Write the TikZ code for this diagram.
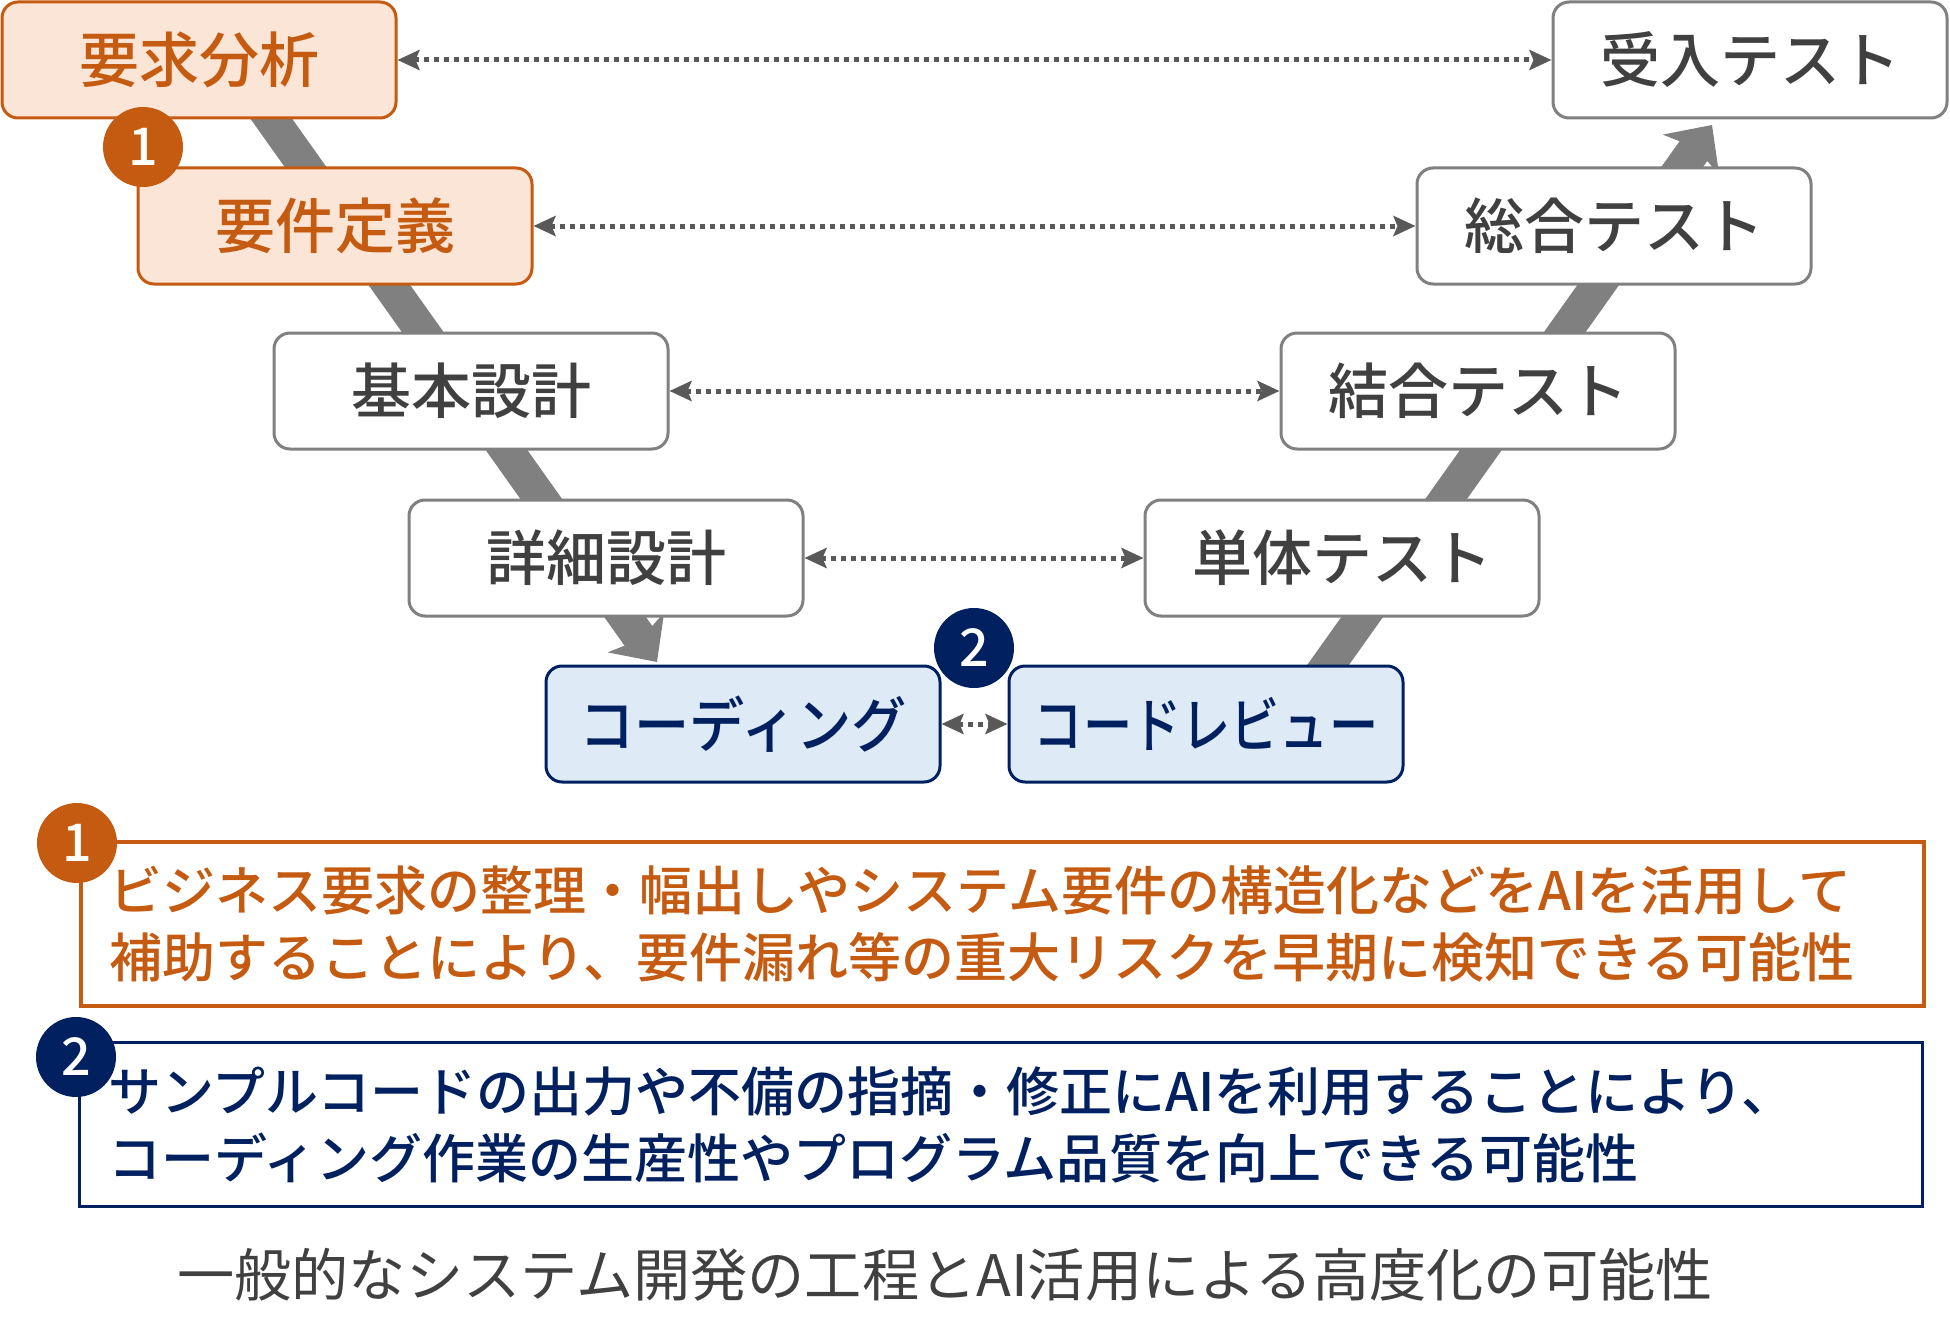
\documentclass[tikz,border=0pt]{standalone}
\usepackage{fontspec}
\setmainfont{Noto Sans CJK JP}
\newfontfamily\stagefont{Noto Sans CJK JP Medium}
\newfontfamily\codingfont[FakeStretch=0.92]{Noto Sans CJK JP Medium}
\newfontfamily\reviewfont[FakeStretch=0.82]{Noto Sans CJK JP Medium}
\newfontfamily\notefont{Noto Sans CJK JP Medium}
\usetikzlibrary{arrows.meta}
\definecolor{reqline}{HTML}{C55A11}
\definecolor{reqfill}{HTML}{FBE5D6}
\definecolor{codeline}{HTML}{002060}
\definecolor{codefill}{HTML}{DEEBF7}
\definecolor{boxline}{HTML}{808080}
\definecolor{inkdark}{HTML}{404040}
\definecolor{flowgray}{HTML}{808080}
\definecolor{linkgray}{HTML}{595959}

\begin{document}
\begin{tikzpicture}[
  x=0.5pt, y=-0.5pt,
  phase/.style={draw=boxline, fill=white, line width=1.5pt, rounded corners=8pt, align=center, minimum width=197pt, minimum height=58pt, inner sep=0pt, text=inkdark, font=\fontsize{30}{36}\stagefont},
  reqphase/.style={phase, draw=reqline, fill=reqfill, text=reqline},
  codephase/.style={phase, draw=codeline, fill=codefill, text=codeline},
  badge/.style={circle, minimum size=40pt, inner sep=0pt, text=white, font=\fontsize{26}{26}\stagefont},
  note/.style={draw, line width=1.75pt, minimum width=921.5pt, minimum height=82pt, inner sep=0pt, text width=893pt, align=left, font=\fontsize{26.5}{33.5}\notefont},
  link/.style={{Stealth[length=11pt,width=10pt,inset=2pt]}-{Stealth[length=11pt,width=10pt,inset=2pt]}, draw=linkgray, line width=2.5pt, dash pattern=on 2.5pt off 2.5pt},
  flow/.style={-{Stealth[length=18pt,width=34pt,inset=4pt]}, draw=flowgray, line width=17pt},
]
\useasboundingbox (0,0) rectangle (1950,1338);

% V-shaped flow behind the stages
\coordinate (downstart) at (231,62);
\coordinate (downend) at (657,662);
\coordinate (upstart) at (1306,696);
\coordinate (upend) at (1712,125);
\draw[flow] (downstart) -- (downend);
\draw[flow] (upstart) -- (upend);

% left side
\node[reqphase] (req) at (199,60) {要求分析};
\node[reqphase] (reqdef) at (335,226) {要件定義};
\node[phase] (basic) at (471,391) {基本設計};
\node[phase] (detail) at (606,558) {詳細設計};
\node[codephase, font=\fontsize{30}{36}\codingfont] (coding) at (743,724) {コーディング};
% right side
\node[phase] (accept) at (1750,60) {受入テスト};
\node[phase] (system) at (1614,226) {総合テスト};
\node[phase] (integ) at (1478,391) {結合テスト};
\node[phase] (unit) at (1342,558) {単体テスト};
\node[codephase, font=\fontsize{30}{36}\reviewfont] (review) at (1206,724) {コードレビュー};

\draw[link] (req) -- (accept);
\draw[link] (reqdef) -- (system);
\draw[link] (basic) -- (integ);
\draw[link] (detail) -- (unit);
\draw[link] (coding) -- (review);

\node[badge, fill=reqline] (mark1) at (143,147) {1};
\node[badge, fill=codeline] (mark2) at (974,648) {2};

% notes
\node[note, draw=reqline, text=reqline] (note1) at (1002.5,924) {ビジネス要求の整理・幅出しやシステム要件の構造化などをAIを活用して\\補助することにより、要件漏れ等の重大リスクを早期に検知できる可能性};
\node[note, draw=codeline, text=codeline] (note2) at (1001,1124.5) {サンプルコードの出力や不備の指摘・修正にAIを利用することにより、\\コーディング作業の生産性やプログラム品質を向上できる可能性};
\node[badge, fill=reqline] (notemark1) at (77,843) {1};
\node[badge, fill=codeline] (notemark2) at (76,1057) {2};

\node[font=\fontsize{28.6}{28.6}\selectfont, text=inkdark] (caption) at (945,1275) {一般的なシステム開発の工程とAI活用による高度化の可能性};
\end{tikzpicture}
\end{document}
